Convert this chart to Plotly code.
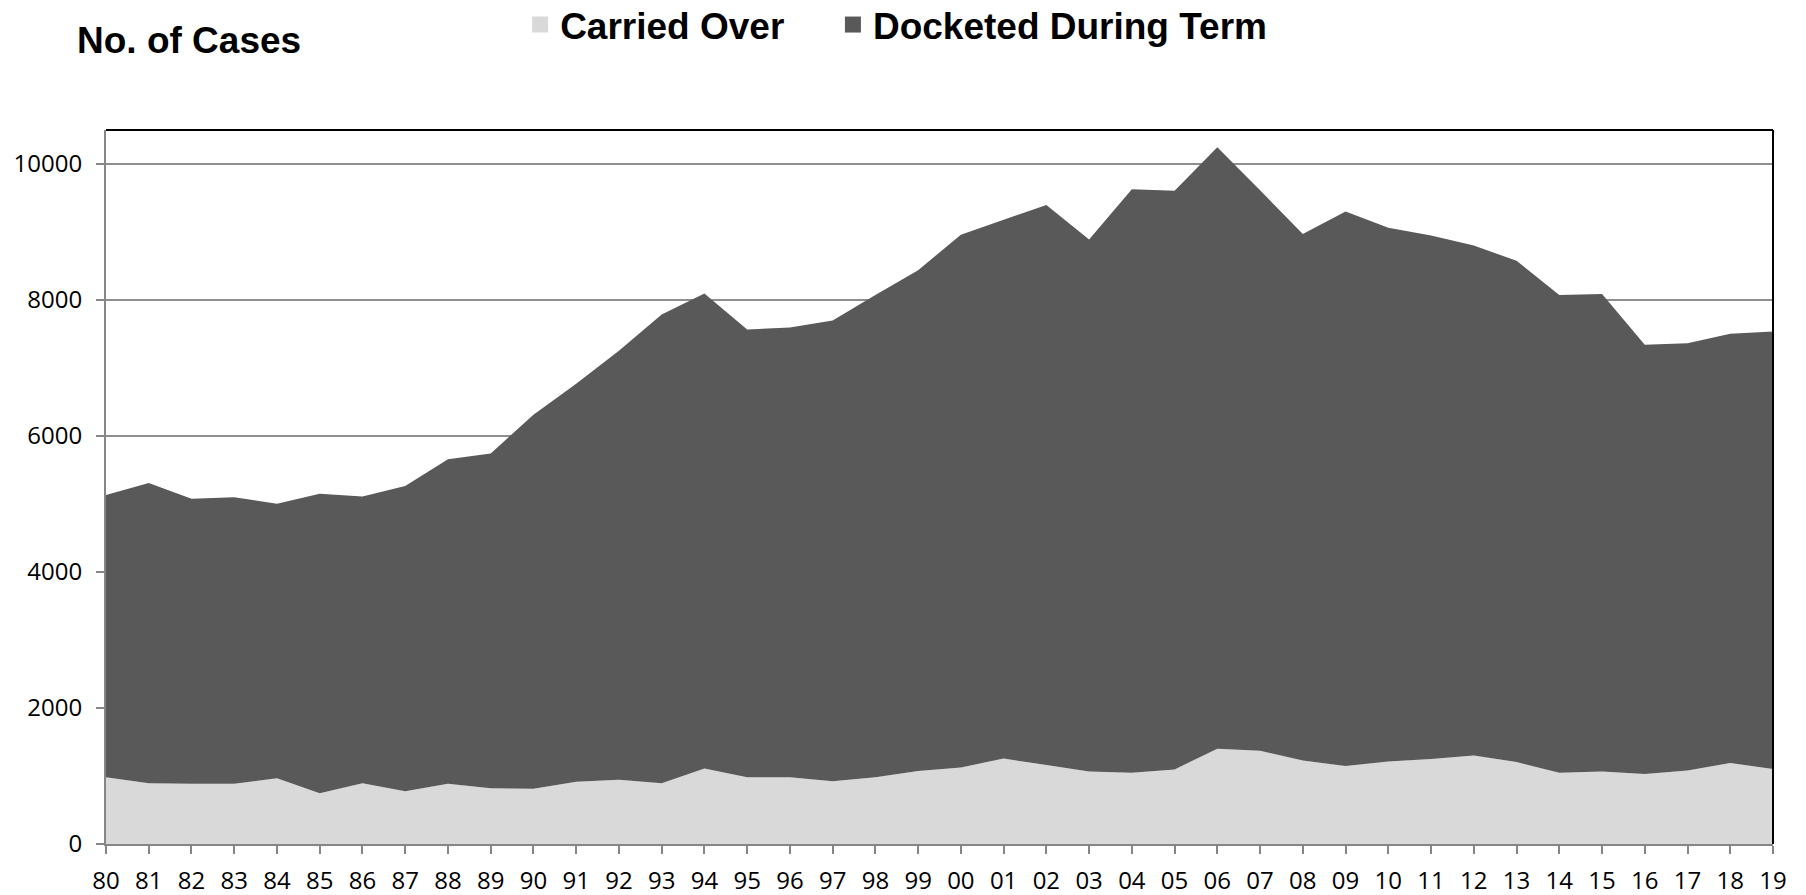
import plotly.graph_objects as go

years = ["80", "81", "82", "83", "84", "85", "86", "87", "88", "89",
         "90", "91", "92", "93", "94", "95", "96", "97", "98", "99",
         "00", "01", "02", "03", "04", "05", "06", "07", "08", "09",
         "10", "11", "12", "13", "14", "15", "16", "17", "18", "19"]

carried_over = [980, 893, 886, 886, 966, 748, 893, 777, 886, 821,
                813, 915, 944, 893, 1111, 980, 980, 922, 980, 1075,
                1126, 1256, 1162, 1067, 1046, 1097, 1402, 1373, 1227, 1147,
                1213, 1249, 1300, 1205, 1046, 1068, 1031, 1082, 1191, 1104]

total_cases = [5134, 5308, 5076, 5098, 5004, 5149, 5112, 5265, 5657, 5744,
               6311, 6768, 7255, 7785, 8097, 7567, 7596, 7698, 8075, 8438,
               8961, 9179, 9397, 8889, 9629, 9608, 10247, 9615, 8969, 9303,
               9063, 8947, 8802, 8576, 8075, 8090, 7342, 7364, 7502, 7538]

docketed = [t - c for t, c in zip(total_cases, carried_over)]

y_ticks = [0, 2000, 4000, 6000, 8000, 10000]

light = "#d9d9d9"
dark = "#595959"
axis_gray = "#868686"

fig = go.Figure()

# stacked areas
fig.add_trace(go.Scatter(
    x=years, y=carried_over, name="Carried Over", stackgroup="one",
    mode="none", fillcolor=light, showlegend=False
))
fig.add_trace(go.Scatter(
    x=years, y=docketed, name="Docketed During Term", stackgroup="one",
    mode="none", fillcolor=dark, showlegend=False
))

# legend entries with square swatches, one legend each so spacing can be set
for name, col, lg in [("Carried Over", light, "legend"),
                      ("Docketed During Term", dark, "legend2")]:
    fig.add_trace(go.Scatter(
        x=[None], y=[None], mode="markers", name="<b>" + name + "</b>",
        marker=dict(symbol="square", size=19, color=col), legend=lg
    ))

# black frame on top and right
fig.add_shape(type="line", xref="paper", yref="paper", x0=0, x1=1, y0=1, y1=1,
              line=dict(color="black", width=2))
fig.add_shape(type="line", xref="paper", yref="paper", x0=1, x1=1, y0=0, y1=1,
              line=dict(color="black", width=2))

legend_style = dict(
    orientation="h", xref="container", yref="container",
    xanchor="left", y=1 - 25 / 895, yanchor="middle",
    font=dict(family="Liberation Sans", size=37, color="black"),
    bgcolor="rgba(0,0,0,0)"
)

fig.update_layout(
    width=1806, height=895,
    paper_bgcolor="white", plot_bgcolor="white",
    margin=dict(l=106, r=33, t=130, b=51),
    font=dict(family="Open Sans", color="black"),
    title=dict(
        text="<b>No. of Cases</b>", xref="container", yref="container",
        x=77 / 1806, xanchor="left", y=1 - 40 / 895, yanchor="middle",
        font=dict(family="Liberation Sans", size=37, color="black")
    ),
    legend=dict(legend_style, x=0.288),
    legend2=dict(legend_style, x=0.4612),
    xaxis=dict(
        type="category", range=[0, len(years) - 1], automargin=False,
        showgrid=False, showline=True, linecolor=axis_gray, linewidth=2,
        ticks="outside", ticklen=8, tickcolor=axis_gray, tickwidth=1.5,
        tickfont=dict(size=24), ticklabelstandoff=6, zeroline=False
    ),
    yaxis=dict(
        range=[0, 10500], tickvals=y_ticks, tickformat="d", automargin=False,
        showgrid=True, gridcolor="#8f8f8f", gridwidth=1.5,
        showline=True, linecolor=axis_gray, linewidth=2,
        ticks="outside", ticklen=8, tickcolor=axis_gray, tickwidth=1.5,
        tickfont=dict(size=24), ticklabelstandoff=9, zeroline=False
    )
)

fig.write_html("out.html", config={"displayModeBar": False},
               post_script="document.body.style.margin='0px';")
